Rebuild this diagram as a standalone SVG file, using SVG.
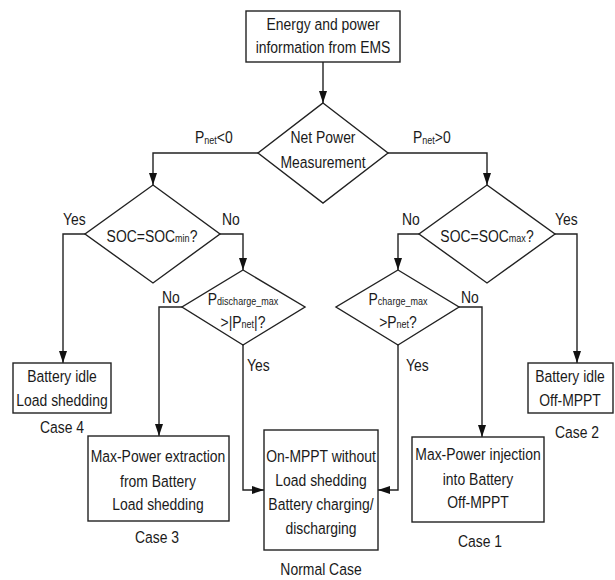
<svg xmlns="http://www.w3.org/2000/svg" width="615" height="580" viewBox="0 0 615 580">
<style>
  .shape { fill: #ffffff; stroke: #222222; stroke-width: 1.4; }
  .conn { fill: none; stroke: #222222; stroke-width: 1.4; }
  text { font-family: "Liberation Sans", Arial, sans-serif; font-size: 17px; fill: #1a1a1a; }
  .c { text-anchor: middle; }
  .sub { font-size: 11px; }
</style>
<defs>
  <marker id="arr" markerUnits="userSpaceOnUse" markerWidth="12" markerHeight="8" refX="12" refY="4" orient="auto">
    <path d="M0,0 L12,4 L0,8 Z" fill="#111111"/>
  </marker>
</defs>
<rect width="615" height="580" fill="#ffffff"/>

<g id="connectors">
  <path class="conn" d="M323,62 V103" marker-end="url(#arr)"/>
  <path class="conn" d="M258,153 H153 V185" marker-end="url(#arr)"/>
  <path class="conn" d="M388,153 H487 V185" marker-end="url(#arr)"/>
  <path class="conn" d="M85,234 H63 V363" marker-end="url(#arr)"/>
  <path class="conn" d="M220,234 H243 V270" marker-end="url(#arr)"/>
  <path class="conn" d="M182,307 H159 V436" marker-end="url(#arr)"/>
  <path class="conn" d="M243,345 V490 H264" marker-end="url(#arr)"/>
  <path class="conn" d="M419,234 H398 V270" marker-end="url(#arr)"/>
  <path class="conn" d="M555,234 H577 V363" marker-end="url(#arr)"/>
  <path class="conn" d="M459,307 H482 V437" marker-end="url(#arr)"/>
  <path class="conn" d="M398,345 V490 H378" marker-end="url(#arr)"/>
  <text transform="translate(195,143) scale(0.82,1)">P<tspan class="sub" dy="1">net</tspan><tspan dy="-1">&lt;0</tspan></text>
  <text transform="translate(413,143) scale(0.82,1)">P<tspan class="sub" dy="1">net</tspan><tspan dy="-1">&gt;0</tspan></text>
  <text transform="translate(63,225) scale(0.82,1)">Yes</text>
  <text transform="translate(222,225) scale(0.82,1)">No</text>
  <text transform="translate(162,303) scale(0.82,1)">No</text>
  <text transform="translate(247,371) scale(0.82,1)">Yes</text>
  <text transform="translate(402,225) scale(0.82,1)">No</text>
  <text transform="translate(555,225) scale(0.82,1)">Yes</text>
  <text transform="translate(461,303) scale(0.82,1)">No</text>
  <text transform="translate(406,371) scale(0.82,1)">Yes</text>
</g>

<g id="ems">
  <rect class="shape" x="246" y="11" width="154" height="51"/>
  <text class="c" transform="translate(323,30) scale(0.82,1)">Energy and power</text>
  <text class="c" transform="translate(323,53) scale(0.82,1)">information from EMS</text>
</g>

<g id="net-power">
  <path class="shape" d="M323,103 L388,153 L323,203 L258,153 Z"/>
  <text class="c" transform="translate(323,143) scale(0.82,1)">Net Power</text>
  <text class="c" transform="translate(323,168) scale(0.82,1)">Measurement</text>
</g>

<g id="soc-min">
  <path class="shape" d="M153,185 L220,234 L153,283 L85,234 Z"/>
  <text class="c" transform="translate(152,242) scale(0.82,1)">SOC=SOC<tspan class="sub">min</tspan>?</text>
</g>

<g id="discharge">
  <path class="shape" d="M243,270 L305,307 L243,345 L182,307 Z"/>
  <text class="c" transform="translate(243,305) scale(0.82,1)">P<tspan class="sub">discharge_max</tspan></text>
  <text class="c" transform="translate(243,328) scale(0.82,1)">&gt;|P<tspan class="sub">net</tspan>|?</text>
</g>

<g id="soc-max">
  <path class="shape" d="M487,185 L555,234 L487,283 L419,234 Z"/>
  <text class="c" transform="translate(487,242) scale(0.82,1)">SOC=SOC<tspan class="sub">max</tspan>?</text>
</g>

<g id="charge">
  <path class="shape" d="M398,270 L459,307 L398,345 L336,307 Z"/>
  <text class="c" transform="translate(398,305) scale(0.82,1)">P<tspan class="sub">charge_max</tspan></text>
  <text class="c" transform="translate(398,328) scale(0.82,1)">&gt;P<tspan class="sub">net</tspan>?</text>
</g>

<g id="case4">
  <rect class="shape" x="13" y="363" width="98" height="50"/>
  <text class="c" transform="translate(62,382) scale(0.82,1)">Battery idle</text>
  <text class="c" transform="translate(62,406) scale(0.82,1)">Load shedding</text>
  <text class="c" transform="translate(62,433) scale(0.82,1)">Case 4</text>
</g>

<g id="case3">
  <rect class="shape" x="88" y="436" width="141" height="85"/>
  <text class="c" transform="translate(158,462) scale(0.82,1)">Max-Power extraction</text>
  <text class="c" transform="translate(158,487) scale(0.82,1)">from Battery</text>
  <text class="c" transform="translate(158,510) scale(0.82,1)">Load shedding</text>
  <text class="c" transform="translate(157,543) scale(0.82,1)">Case 3</text>
</g>

<g id="normal">
  <rect class="shape" x="264" y="430" width="114" height="120"/>
  <text class="c" transform="translate(321,462) scale(0.82,1)">On-MPPT without</text>
  <text class="c" transform="translate(321,486) scale(0.82,1)">Load shedding</text>
  <text class="c" transform="translate(321,510) scale(0.82,1)">Battery charging/</text>
  <text class="c" transform="translate(321,534) scale(0.82,1)">discharging</text>
  <text class="c" transform="translate(321,575) scale(0.82,1)">Normal Case</text>
</g>

<g id="case1">
  <rect class="shape" x="412" y="437" width="132" height="85"/>
  <text class="c" transform="translate(478,460) scale(0.82,1)">Max-Power injection</text>
  <text class="c" transform="translate(478,485) scale(0.82,1)">into Battery</text>
  <text class="c" transform="translate(478,508) scale(0.82,1)">Off-MPPT</text>
  <text class="c" transform="translate(480,547) scale(0.82,1)">Case 1</text>
</g>

<g id="case2">
  <rect class="shape" x="528" y="363" width="85" height="50"/>
  <text class="c" transform="translate(570,382) scale(0.82,1)">Battery idle</text>
  <text class="c" transform="translate(570,406) scale(0.82,1)">Off-MPPT</text>
  <text class="c" transform="translate(577,438) scale(0.82,1)">Case 2</text>
</g>
</svg>
